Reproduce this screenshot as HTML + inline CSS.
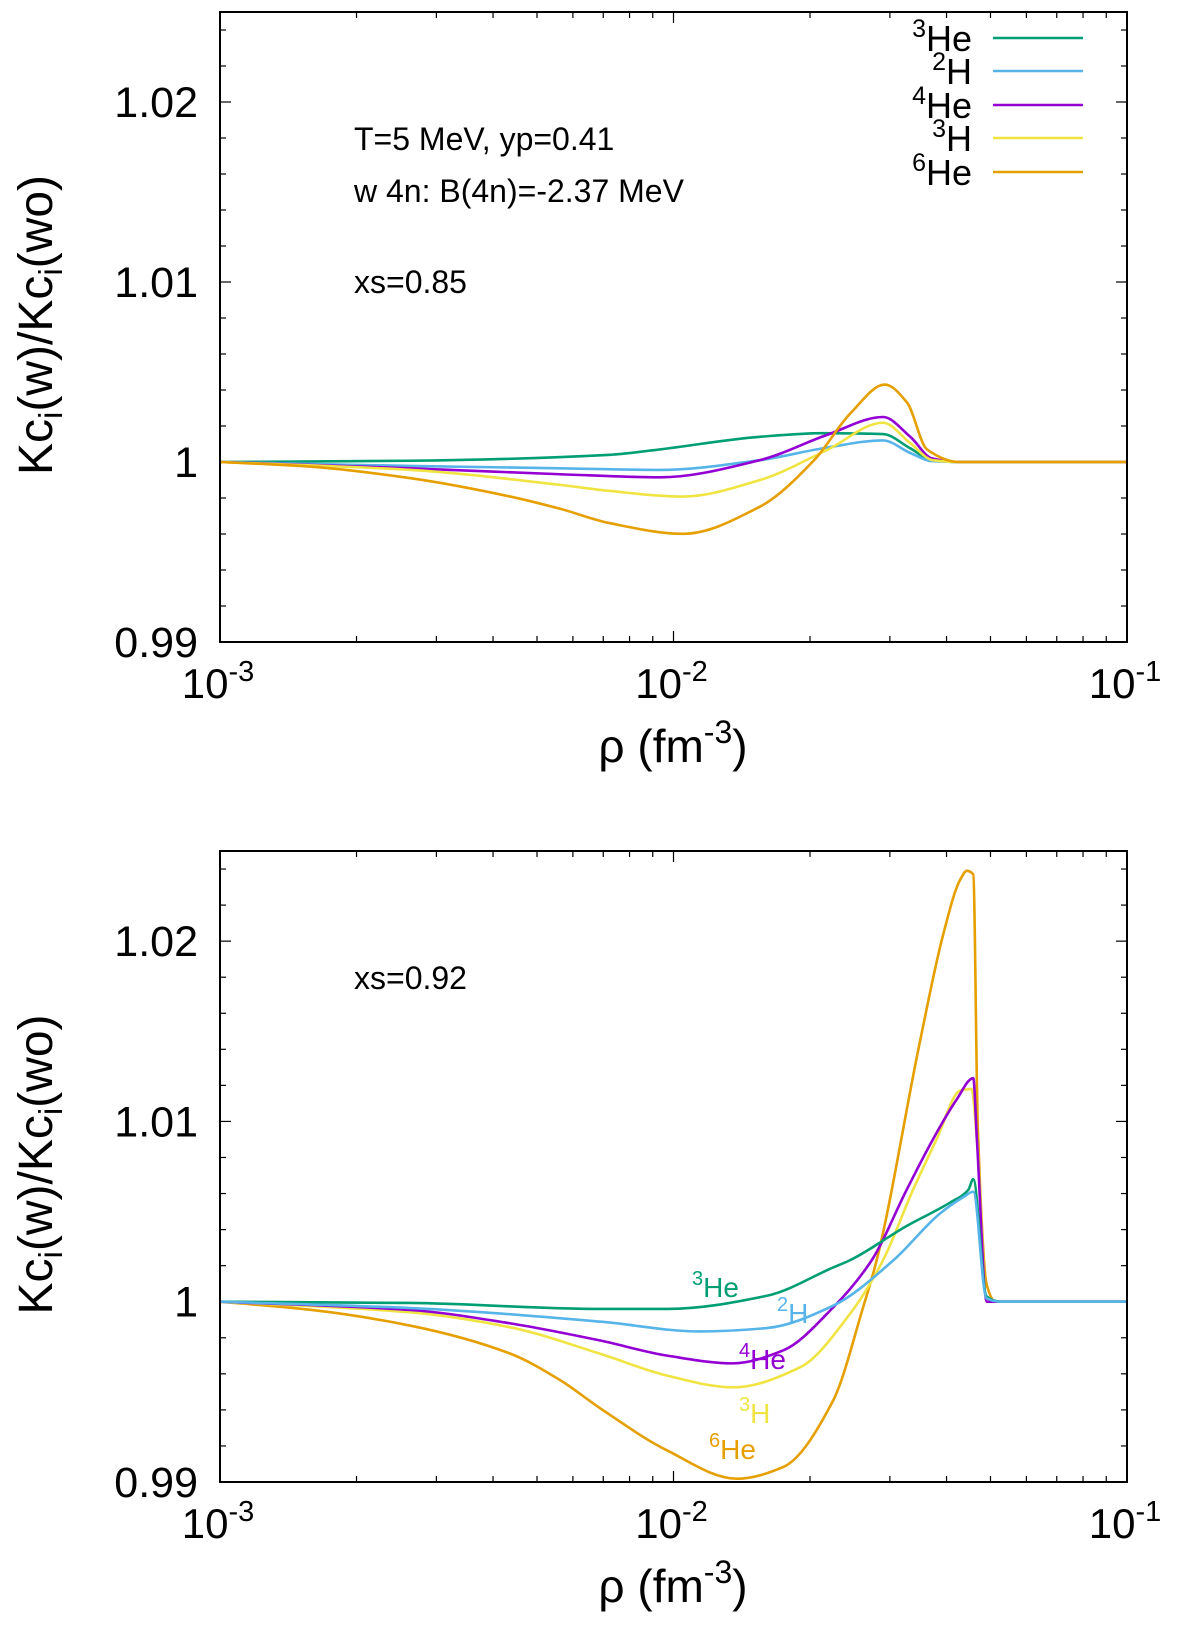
<!DOCTYPE html>
<html><head><meta charset="utf-8">
<style>
body{margin:0;background:#fff;}
svg{display:block;font-family:"Liberation Sans",sans-serif;}
</style></head>
<body>
<svg id="chart" width="1200" height="1637" viewBox="0 0 1200 1637" xmlns="http://www.w3.org/2000/svg">
<rect x="0" y="0" width="1200" height="1637" fill="#fff"/>
<g id="p1"></g>
<g id="p2"></g>
<g font-size="32" fill="#000">
<text x="354" y="150">T=5 MeV, yp=0.41</text>
<text x="354" y="202">w 4n: B(4n)=-2.37 MeV</text>
<text x="354" y="293">xs=0.85</text>
</g>
<text x="354" y="989" font-size="32">xs=0.92</text>
<g font-size="36" text-anchor="end">
<text x="972" y="51"><tspan font-size="25" dy="-14">3</tspan><tspan dy="14">He</tspan></text>
<line x1="993" y1="38" x2="1083" y2="38" stroke="#009e73" stroke-width="2.5"/>
<text x="972" y="84"><tspan font-size="25" dy="-14">2</tspan><tspan dy="14">H</tspan></text>
<line x1="993" y1="71" x2="1083" y2="71" stroke="#56b4e9" stroke-width="2.5"/>
<text x="972" y="118"><tspan font-size="25" dy="-14">4</tspan><tspan dy="14">He</tspan></text>
<line x1="993" y1="105" x2="1083" y2="105" stroke="#9400d3" stroke-width="2.5"/>
<text x="972" y="151"><tspan font-size="25" dy="-14">3</tspan><tspan dy="14">H</tspan></text>
<line x1="993" y1="138" x2="1083" y2="138" stroke="#f0e442" stroke-width="2.5"/>
<text x="972" y="185"><tspan font-size="25" dy="-14">6</tspan><tspan dy="14">He</tspan></text>
<line x1="993" y1="172" x2="1083" y2="172" stroke="#e69f00" stroke-width="2.5"/>
</g>
<g font-size="28">
<text x="692" y="1297" fill="#009e73"><tspan font-size="20" dy="-12">3</tspan><tspan dy="12">He</tspan></text>
<text x="777" y="1323" fill="#56b4e9"><tspan font-size="20" dy="-12">2</tspan><tspan dy="12">H</tspan></text>
<text x="739" y="1369" fill="#9400d3"><tspan font-size="20" dy="-12">4</tspan><tspan dy="12">He</tspan></text>
<text x="739" y="1423" fill="#f0e442"><tspan font-size="20" dy="-12">3</tspan><tspan dy="12">H</tspan></text>
<text x="709" y="1459" fill="#e69f00"><tspan font-size="20" dy="-12">6</tspan><tspan dy="12">He</tspan></text>
</g>
</svg>
<script>
// x values are log10(rho)
const topGreenX=[-3,-2.58,-2.14,-2.03,-1.81,-1.67,-1.538,-1.478,-1.43,-1.37,-1];
const topGreenY=[1.0,1.00007,1.0004,1.0007,1.0014,1.0016,1.00155,1.00076,1.0001,1.0,1.0];
const topBlueX=[-3,-2.58,-2.25,-2.03,-1.81,-1.662,-1.538,-1.478,-1.43,-1.37,-1];
const topBlueY=[1.0,0.99978,0.99965,0.99956,1.0001,1.0008,1.0012,1.0005,1.00005,1.0,1.0];
const topPurpleX=[-3,-2.58,-2.25,-2.03,-1.81,-1.662,-1.538,-1.478,-1.43,-1.37,-1];
const topPurpleY=[1.0,0.99965,0.99932,0.99915,1.0001,1.0015,1.0025,1.0014,1.0002,1.0,1.0];
const topYellowX=[-3,-2.58,-2.25,-2.14,-1.979,-1.809,-1.662,-1.538,-1.478,-1.428,-1.37,-1];
const topYellowY=[1.0,0.99956,0.99873,0.99839,0.99808,0.9990,1.00066,1.00218,1.00105,1.0001,1.0,1.0];
const topOrangeX=[-3,-2.8,-2.58,-2.36,-2.25,-2.14,-1.979,-1.81,-1.69,-1.61,-1.534,-1.485,-1.441,-1.37,-1];
const topOrangeY=[1.0,0.99974,0.9991,0.99808,0.9974,0.9966,0.99601,0.99751,1.0001,1.0027,1.0043,1.0033,1.0007,1.0,1.0];

const botGreenX=[-3,-2.58,-2.16,-2.014,-1.794,-1.648,-1.611,-1.486,-1.39,-1.35,-1.339,-1.31,-1.28,-1];
const botGreenY=[1.0,0.99993,0.9996,0.9996,1.00033,1.0019,1.0023,1.0042,1.0055,1.0062,1.0068,1.0003,1.0,1.0];
const botBlueX=[-3,-2.58,-2.16,-1.942,-1.794,-1.648,-1.515,-1.412,-1.361,-1.339,-1.31,-1.28,-1];
const botBlueY=[1.0,0.99965,0.99889,0.99835,0.99854,0.99978,1.0023,1.0049,1.0058,1.0061,1.0002,1.0,1.0];
const botPurpleX=[-3,-2.58,-2.36,-2.16,-2.014,-1.869,-1.759,-1.648,-1.563,-1.486,-1.428,-1.376,-1.339,-1.331,-1.309,-1.28,-1];
const botPurpleY=[1.0,0.99954,0.9988,0.99784,0.99701,0.99658,0.99729,0.99968,1.0023,1.0062,1.009,1.0112,1.0124,1.009,1.0,1.0,1.0];
const botYellowX=[-3,-2.58,-2.36,-2.16,-2.014,-1.869,-1.721,-1.611,-1.538,-1.472,-1.42,-1.368,-1.343,-1.331,-1.309,-1.28,-1];
const botYellowY=[1.0,0.99941,0.99858,0.9971,0.9959,0.99525,0.99636,0.99932,1.0023,1.0062,1.009,1.0117,1.0118,1.009,1.0,1.0,1.0];
const botOrangeX=[-3,-2.8,-2.58,-2.36,-2.25,-2.16,-2.014,-1.86,-1.759,-1.648,-1.582,-1.552,-1.456,-1.406,-1.368,-1.353,-1.339,-1.329,-1.309,-1.29,-1];
const botOrangeY=[1.0,0.99955,0.99867,0.99712,0.99565,0.99406,0.99175,0.99018,0.99082,0.99452,0.99968,1.0023,1.0145,1.0203,1.0234,1.0239,1.0237,1.0097,1.0009,1.0,1.0];

const yTickVals=[0.99,1.0,1.01,1.02];
const yTickLabels=["0.99","1","1.01","1.02"];
const xTickExps=[-3,-2,-1];
const xTickLabels=["-3","-2","-1"];

const NS="http://www.w3.org/2000/svg";
function mk(tag,attrs,parent){const e=document.createElementNS(NS,tag);for(const k in attrs)e.setAttribute(k,attrs[k]);parent.appendChild(e);return e;}

function monoPath(xs,ys){
  const n=xs.length,d=[],m=[];
  for(let i=0;i<n-1;i++)d.push((ys[i+1]-ys[i])/(xs[i+1]-xs[i]));
  m[0]=d[0];m[n-1]=d[n-2];
  for(let i=1;i<n-1;i++){ if(d[i-1]*d[i]<=0)m[i]=0; else {const h0=xs[i]-xs[i-1],h1=xs[i+1]-xs[i];m[i]=3*(h0+h1)/((2*h1+h0)/d[i-1]+(h1+2*h0)/d[i]);} }
  let p="M"+xs[0].toFixed(2)+","+ys[0].toFixed(2);
  for(let i=0;i<n-1;i++){const h=(xs[i+1]-xs[i])/3;
    p+="C"+(xs[i]+h).toFixed(2)+","+(ys[i]+m[i]*h).toFixed(2)+" "+(xs[i+1]-h).toFixed(2)+","+(ys[i+1]-m[i+1]*h).toFixed(2)+" "+xs[i+1].toFixed(2)+","+ys[i+1].toFixed(2);}
  return p;
}

function panel(g,top,bottom,series,name){
  const L=220,R=1127,ymin=0.99,ymax=1.025;
  const sx=v=>L+(v-(-3))/2*(R-L);
  const sy=v=>bottom-(v-ymin)/(ymax-ymin)*(bottom-top);
  for(let v=0.99;v<=1.0241;v+=0.002){
    const y=sy(v);const major=Math.abs(Math.round(v*100)-v*100)<1e-6;const len=major?11:6;
    const t1=mk('line',{x1:L,y1:y,x2:L+len,y2:y,stroke:'#000','stroke-width':1.2},g);
    
    
    const t2=mk('line',{x1:R,y1:y,x2:R-len,y2:y,stroke:'#000','stroke-width':1.2},g);
    
    
  }
  yTickVals.forEach((v,i)=>{
    const t=mk('text',{x:L-22,y:sy(v)+15,'font-size':43,'text-anchor':'end'},g);
    t.textContent=yTickLabels[i];
    
    
  });
  for(let e=-3;e<-1;e++){for(let k=1;k<10;k++){
    const v=e+Math.log10(k);const x=sx(v);const len=k==1?11:6;
    const t1=mk('line',{x1:x,y1:bottom,x2:x,y2:bottom-len,stroke:'#000','stroke-width':1.2},g);
    
    
    const t2=mk('line',{x1:x,y1:top,x2:x,y2:top+len,stroke:'#000','stroke-width':1.2},g);
    
    
  }}
  xTickExps.forEach((v,i)=>{
    const t=mk('text',{x:sx(v)-2,y:bottom+56,'font-size':42,'text-anchor':'middle'},g);
    
    
    const a=mk('tspan',{},t);a.textContent='10';
    const b=mk('tspan',{'font-size':29,dy:-17},t);b.textContent=xTickLabels[i];
  });
  series.forEach(s=>{
    const path=mk('path',{d:monoPath(s.x.map(sx),s.y.map(sy)),fill:'none',stroke:s.c,'stroke-width':2.6,'stroke-linejoin':'round'},g);
    
    
  });
  const fr=mk('rect',{x:L,y:top,width:R-L,height:bottom-top,fill:'none',stroke:'#000','stroke-width':2},g);
  
  
  const xt=mk('text',{x:673,y:bottom+120,'font-size':46,'text-anchor':'middle'},g);
  
  
  const x1=mk('tspan',{},xt);x1.textContent='ρ (fm';
  const x2=mk('tspan',{'font-size':32,dy:-19},xt);x2.textContent='-3';
  const x3=mk('tspan',{dy:19},xt);x3.textContent=')';
  const cy=(top+bottom)/2-2;
  const yt=mk('text',{x:0,y:0,'font-size':48,'text-anchor':'middle',transform:'translate(52,'+cy+') rotate(-90)'},g);
  
  
  const parts=[['Kc',0],['i',1],['(w)/Kc',0],['i',1],['(wo)',0]];
  parts.forEach(p=>{const ts=mk('tspan',p[1]?{'font-size':33,dy:10}:{dy:0},yt);ts.textContent=p[0];
    if(!p[1]&&yt.childNodes.length>1)ts.setAttribute('dy',-10);});
}

panel(document.getElementById('p1'),12,642,[
  {n:'3he',x:topGreenX,y:topGreenY,c:'#009e73'},
  {n:'2h',x:topBlueX,y:topBlueY,c:'#56b4e9'},
  {n:'4he',x:topPurpleX,y:topPurpleY,c:'#9400d3'},
  {n:'3h',x:topYellowX,y:topYellowY,c:'#f0e442'},
  {n:'6he',x:topOrangeX,y:topOrangeY,c:'#e69f00'}],'top');
panel(document.getElementById('p2'),851,1482,[
  {n:'6he',x:botOrangeX,y:botOrangeY,c:'#e69f00'},
  {n:'3h',x:botYellowX,y:botYellowY,c:'#f0e442'},
  {n:'4he',x:botPurpleX,y:botPurpleY,c:'#9400d3'},
  {n:'3he',x:botGreenX,y:botGreenY,c:'#009e73'},
  {n:'2h',x:botBlueX,y:botBlueY,c:'#56b4e9'}],'bottom');
</script>
</body></html>
